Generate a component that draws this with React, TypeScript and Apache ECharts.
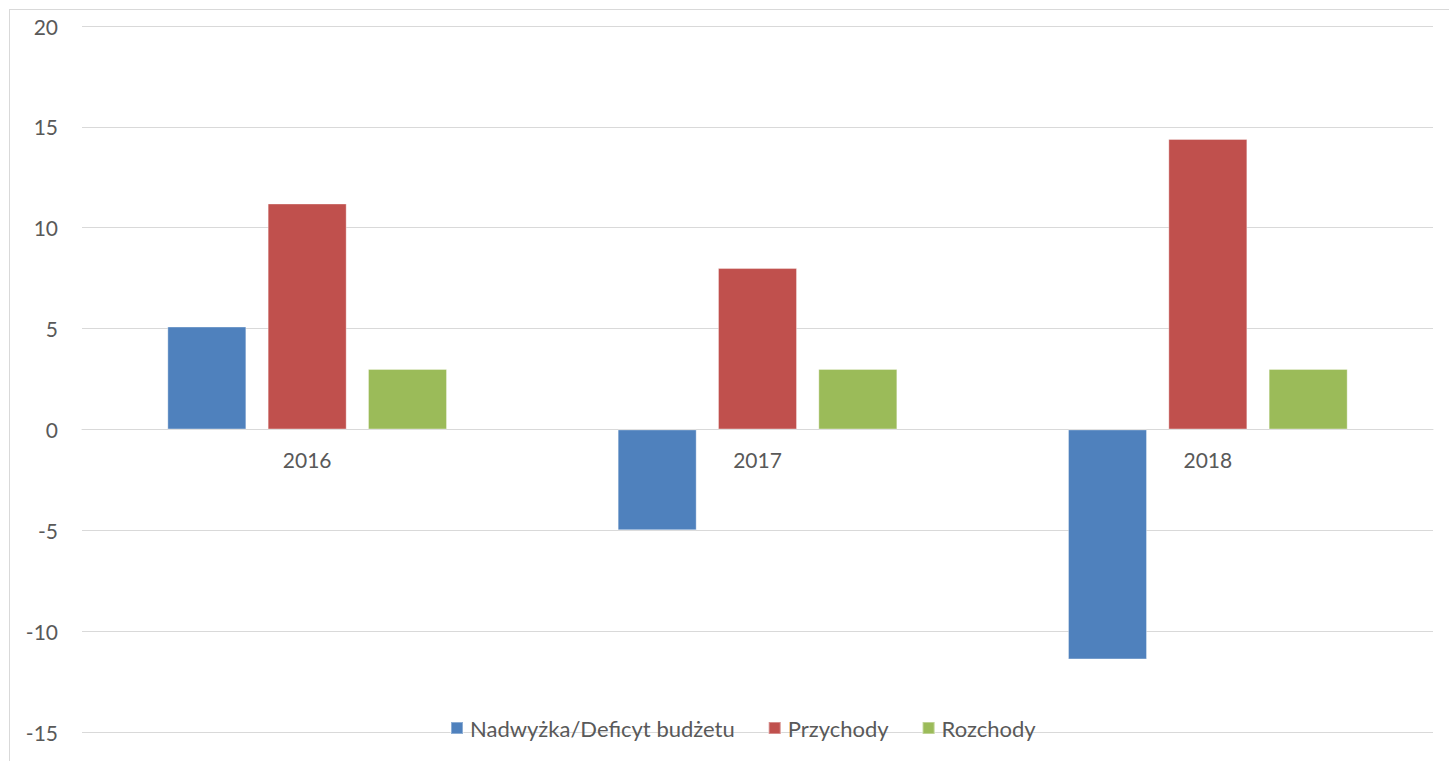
import React, { useEffect, useRef } from "react";
import * as echarts from "echarts";

const categories = ["2016", "2017", "2018"];
const seriesNames = ["Nadwyżka/Deficyt budżetu", "Przychody", "Rozchody"];
const balance = [5.1, -5.0, -11.4];
const revenue = [11.2, 8.0, 14.4];
const expenses = [3.0, 3.0, 3.0];
const colors = ["#4f81bd", "#c0504d", "#9bbb59"];
const yMin = -15;
const yMax = 20;

const FONT = "Lato";
const TEXT = "#595959";

const GRID_TOP = 16;
const GRID_BOTTOM = 30;
const CHART_H = 752;

export default function App() {
  const ref = useRef<HTMLDivElement>(null);
  useEffect(() => {
    if (!ref.current) return;
    const chart = echarts.init(ref.current, undefined, { renderer: "svg" });
    const data = [balance, revenue, expenses];
    const plotH = CHART_H - GRID_TOP - GRID_BOTTOM;
    const zeroOffset = -((0 - yMin) / (yMax - yMin)) * plotH;
    chart.setOption({
      animation: false,
      textStyle: { fontFamily: FONT },
      grid: {
        left: 72,
        right: 17,
        top: GRID_TOP,
        bottom: GRID_BOTTOM,
        containLabel: false,
        outerBoundsMode: "none",
      },
      legend: {
        data: seriesNames,
        left: 435,
        top: 702,
        itemWidth: 12,
        itemHeight: 12,
        itemGap: 33,
        icon: "rect",
        textStyle: { color: TEXT, fontSize: 22, fontFamily: FONT, padding: [0, 0, 0, 2] },
      },
      xAxis: {
        type: "category",
        data: categories,
        offset: zeroOffset,
        axisLine: { onZero: false, lineStyle: { color: "#d9d9d9", width: 1 } },
        axisTick: { show: false },
        axisLabel: { color: TEXT, fontSize: 21, fontFamily: FONT, margin: 20 },
      },
      yAxis: {
        type: "value",
        min: yMin,
        max: yMax,
        interval: 5,
        axisLine: { show: false },
        axisTick: { show: false },
        axisLabel: { color: TEXT, fontSize: 21, fontFamily: FONT, margin: 24 },
        splitLine: { lineStyle: { color: "#d9d9d9", width: 1 } },
      },
      series: seriesNames.map((name, i) => ({
        name,
        type: "bar",
        data: data[i],
        barWidth: 79,
        barGap: "27%",
        itemStyle: {
          color: colors[i],
          borderColor: "rgba(255,255,255,0.35)",
          borderWidth: 1,
        },
      })),
    });
    return () => chart.dispose();
  }, []);
  return (
    <div
      style={{
        position: "absolute",
        left: 9,
        top: 9,
        width: 1500,
        height: 800,
        borderLeft: "1px solid #d9d9d9",
        borderTop: "1px solid #d9d9d9",
        overflow: "hidden",
        background: "#fff",
      }}
    >
      <div ref={ref} style={{ width: 1440, height: CHART_H }} />
    </div>
  );
}
